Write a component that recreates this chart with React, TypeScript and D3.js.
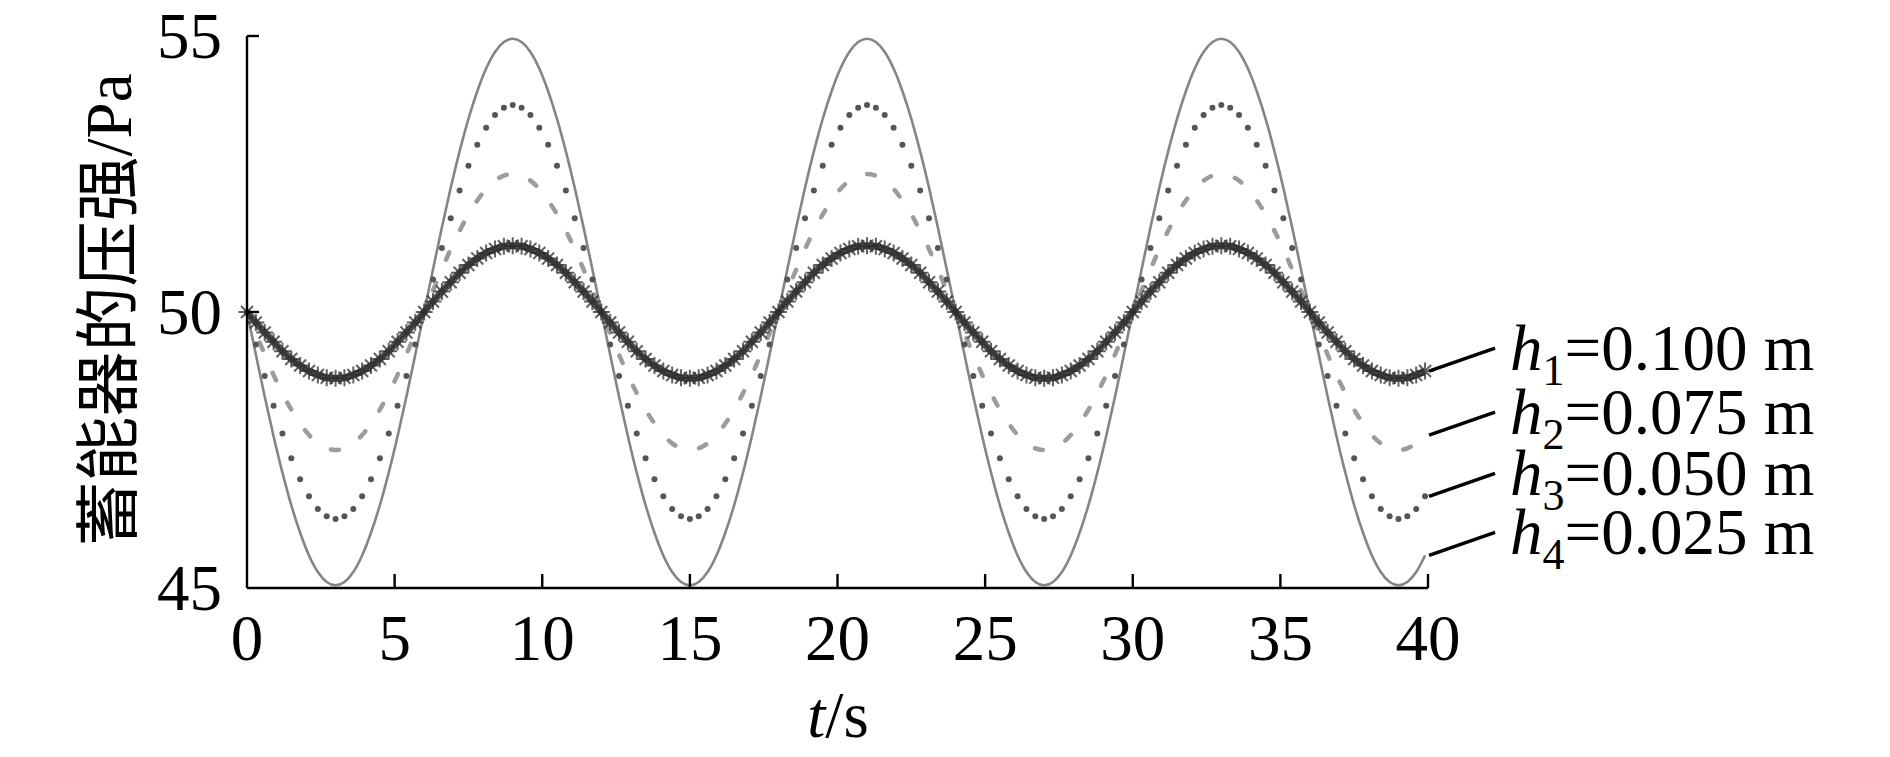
import React from "react";
import * as d3 from "d3";

const TIME_S = [
  0,0.3,0.6,0.9,1.2,1.5,1.8,2.1,2.4,2.7,
  3,3.3,3.6,3.9,4.2,4.5,4.8,5.1,5.4,5.7,
  6,6.3,6.6,6.9,7.2,7.5,7.8,8.1,8.4,8.7,
  9,9.3,9.6,9.9,10.2,10.5,10.8,11.1,11.4,11.7,
  12,12.3,12.6,12.9,13.2,13.5,13.8,14.1,14.4,14.7,
  15,15.3,15.6,15.9,16.2,16.5,16.8,17.1,17.4,17.7,
  18,18.3,18.6,18.9,19.2,19.5,19.8,20.1,20.4,20.7,
  21,21.3,21.6,21.9,22.2,22.5,22.8,23.1,23.4,23.7,
  24,24.3,24.6,24.9,25.2,25.5,25.8,26.1,26.4,26.7,
  27,27.3,27.6,27.9,28.2,28.5,28.8,29.1,29.4,29.7,
  30,30.3,30.6,30.9,31.2,31.5,31.8,32.1,32.4,32.7,
  33,33.3,33.6,33.9,34.2,34.5,34.8,35.1,35.4,35.7,
  36,36.3,36.6,36.9,37.2,37.5,37.8,38.1,38.4,38.7,
  39,39.3,39.6,39.9,
];

// h1 = 0.100 m (star markers)
const P_H1 = [
  50,49.81,49.63,49.46,49.29,49.15,49.03,48.93,48.86,48.81,
  48.8,48.81,48.86,48.93,49.03,49.15,49.29,49.46,49.63,49.81,
  50,50.19,50.37,50.54,50.71,50.85,50.97,51.07,51.14,51.19,
  51.2,51.19,51.14,51.07,50.97,50.85,50.71,50.54,50.37,50.19,
  50,49.81,49.63,49.46,49.29,49.15,49.03,48.93,48.86,48.81,
  48.8,48.81,48.86,48.93,49.03,49.15,49.29,49.46,49.63,49.81,
  50,50.19,50.37,50.54,50.71,50.85,50.97,51.07,51.14,51.19,
  51.2,51.19,51.14,51.07,50.97,50.85,50.71,50.54,50.37,50.19,
  50,49.81,49.63,49.46,49.29,49.15,49.03,48.93,48.86,48.81,
  48.8,48.81,48.86,48.93,49.03,49.15,49.29,49.46,49.63,49.81,
  50,50.19,50.37,50.54,50.71,50.85,50.97,51.07,51.14,51.19,
  51.2,51.19,51.14,51.07,50.97,50.85,50.71,50.54,50.37,50.19,
  50,49.81,49.63,49.46,49.29,49.15,49.03,48.93,48.86,48.81,
  48.8,48.81,48.86,48.93,
];

// h2 = 0.075 m (dashed)
const P_H2 = [
  50,49.61,49.23,48.86,48.53,48.23,47.98,47.77,47.62,47.53,
  47.5,47.53,47.62,47.77,47.98,48.23,48.53,48.86,49.23,49.61,
  50,50.39,50.77,51.14,51.47,51.77,52.02,52.23,52.38,52.47,
  52.5,52.47,52.38,52.23,52.02,51.77,51.47,51.14,50.77,50.39,
  50,49.61,49.23,48.86,48.53,48.23,47.98,47.77,47.62,47.53,
  47.5,47.53,47.62,47.77,47.98,48.23,48.53,48.86,49.23,49.61,
  50,50.39,50.77,51.14,51.47,51.77,52.02,52.23,52.38,52.47,
  52.5,52.47,52.38,52.23,52.02,51.77,51.47,51.14,50.77,50.39,
  50,49.61,49.23,48.86,48.53,48.23,47.98,47.77,47.62,47.53,
  47.5,47.53,47.62,47.77,47.98,48.23,48.53,48.86,49.23,49.61,
  50,50.39,50.77,51.14,51.47,51.77,52.02,52.23,52.38,52.47,
  52.5,52.47,52.38,52.23,52.02,51.77,51.47,51.14,50.77,50.39,
  50,49.61,49.23,48.86,48.53,48.23,47.98,47.77,47.62,47.53,
  47.5,47.53,47.62,47.77,
];

// h3 = 0.050 m (dotted markers)
const P_H3 = [
  50,49.41,48.84,48.3,47.8,47.35,46.97,46.66,46.43,46.3,
  46.25,46.3,46.43,46.66,46.97,47.35,47.8,48.3,48.84,49.41,
  50,50.59,51.16,51.7,52.2,52.65,53.03,53.34,53.57,53.7,
  53.75,53.7,53.57,53.34,53.03,52.65,52.2,51.7,51.16,50.59,
  50,49.41,48.84,48.3,47.8,47.35,46.97,46.66,46.43,46.3,
  46.25,46.3,46.43,46.66,46.97,47.35,47.8,48.3,48.84,49.41,
  50,50.59,51.16,51.7,52.2,52.65,53.03,53.34,53.57,53.7,
  53.75,53.7,53.57,53.34,53.03,52.65,52.2,51.7,51.16,50.59,
  50,49.41,48.84,48.3,47.8,47.35,46.97,46.66,46.43,46.3,
  46.25,46.3,46.43,46.66,46.97,47.35,47.8,48.3,48.84,49.41,
  50,50.59,51.16,51.7,52.2,52.65,53.03,53.34,53.57,53.7,
  53.75,53.7,53.57,53.34,53.03,52.65,52.2,51.7,51.16,50.59,
  50,49.41,48.84,48.3,47.8,47.35,46.97,46.66,46.43,46.3,
  46.25,46.3,46.43,46.66,
];

// h4 = 0.025 m (solid)
const P_H4 = [
  50,49.23,48.47,47.75,47.09,46.5,46,45.59,45.29,45.11,
  45.05,45.11,45.29,45.59,46,46.5,47.09,47.75,48.47,49.23,
  50,50.77,51.53,52.25,52.91,53.5,54,54.41,54.71,54.89,
  54.95,54.89,54.71,54.41,54,53.5,52.91,52.25,51.53,50.77,
  50,49.23,48.47,47.75,47.09,46.5,46,45.59,45.29,45.11,
  45.05,45.11,45.29,45.59,46,46.5,47.09,47.75,48.47,49.23,
  50,50.77,51.53,52.25,52.91,53.5,54,54.41,54.71,54.89,
  54.95,54.89,54.71,54.41,54,53.5,52.91,52.25,51.53,50.77,
  50,49.23,48.47,47.75,47.09,46.5,46,45.59,45.29,45.11,
  45.05,45.11,45.29,45.59,46,46.5,47.09,47.75,48.47,49.23,
  50,50.77,51.53,52.25,52.91,53.5,54,54.41,54.71,54.89,
  54.95,54.89,54.71,54.41,54,53.5,52.91,52.25,51.53,50.77,
  50,49.23,48.47,47.75,47.09,46.5,46,45.59,45.29,45.11,
  45.05,45.11,45.29,45.59,
];

const X_TICKS = [0, 5, 10, 15, 20, 25, 30, 35, 40];
const Y_TICKS = [45, 50, 55];
const LEGEND_SUB = ["1", "2", "3", "4"];
const LEGEND_VAL = ["=0.100 m", "=0.075 m", "=0.050 m", "=0.025 m"];
const Y_TITLE = "蓄能器的压强/Pa";

const SERIF = "'Liberation Serif', 'Times New Roman', 'Noto Sans CJK SC', serif";

export default function App() {
  const W = 1890, H = 757;
  const x = d3.scaleLinear().domain([0, 40]).range([247, 1428]);
  const y = d3.scaleLinear().domain([45, 55]).range([588, 36]);

  const mk = (vals: number[]) => TIME_S.map((t, i) => [t, vals[i]] as [number, number]);
  const line = d3
    .line<[number, number]>()
    .x((d) => x(d[0]))
    .y((d) => y(d[1]))
    .curve(d3.curveMonotoneX);

  const s1 = mk(P_H1), s2 = mk(P_H2), s3 = mk(P_H3), s4 = mk(P_H4);
  const legendSeries = [s1, s2, s3, s4];

  const starPath = "M-8.5,0L8.5,0M0,-8.5L0,8.5M-6,-6L6,6M-6,6L6,-6";

  return (
    <svg
      width={W}
      height={H}
      style={{ position: "absolute", left: 0, top: 0, background: "#fff" }}
      fontFamily={SERIF}
    >
      {/* h4 solid */}
      <path d={line(s4) || ""} fill="none" stroke="#858585" strokeWidth={2.6} />
      {/* h2 dashed */}
      <path
        d={line(s2) || ""}
        fill="none"
        stroke="#9c9c9c"
        strokeWidth={4.5}
        strokeDasharray="8 25"
        strokeLinecap="round"
      />
      {/* h3 dotted markers */}
      {s3.map((d, i) => (
        <circle key={"c" + i} cx={x(d[0])} cy={y(d[1])} r={3} fill="#555" />
      ))}
      {/* h1 stars */}
      <path d={line(s1) || ""} fill="none" stroke="#333" strokeWidth={7} strokeOpacity={0.85} />
      {s1.map((d, i) => (
        <path
          key={"s" + i}
          d={starPath}
          transform={`translate(${x(d[0])},${y(d[1])})`}
          stroke="#2e2e2e"
          strokeWidth={2}
          strokeOpacity={0.75}
          fill="none"
        />
      ))}

      {/* axes */}
      <g stroke="#000" strokeWidth={2.4} fill="none">
        <line x1={x(0)} y1={y(55)} x2={x(0)} y2={y(45)} />
        <line x1={x(0)} y1={y(45)} x2={x(40)} y2={y(45)} />
        {X_TICKS.filter((t) => t > 0).map((t) => (
          <line key={"xt" + t} x1={x(t)} x2={x(t)} y1={y(45)} y2={y(45) - 14} />
        ))}
        {Y_TICKS.filter((v) => v > 45).map((v) => (
          <line key={"yt" + v} x1={x(0)} x2={x(0) + 12} y1={y(v)} y2={y(v)} />
        ))}
      </g>

      {/* tick labels */}
      {X_TICKS.map((t) => (
        <text key={"xl" + t} x={x(t)} y={660} fontSize={65} textAnchor="middle" fill="#000">
          {t}
        </text>
      ))}
      {Y_TICKS.map((v) => (
        <text key={"yl" + v} x={222} y={y(v) + 22} fontSize={65} textAnchor="end" fill="#000">
          {v}
        </text>
      ))}

      {/* axis titles */}
      <text x={838} y={737} fontSize={65} textAnchor="middle" fill="#000">
        <tspan fontStyle="italic">t</tspan>/s
      </text>
      <text
        transform="translate(131,310) rotate(-90)"
        fontSize={65}
        textAnchor="middle"
        fill="#000"
      >
        {Y_TITLE}
      </text>

      {/* legend with leader lines */}
      {legendSeries.map((s, i) => {
        const last = s[s.length - 1];
        const x0 = x(last[0]) + 4;
        const y0 = y(last[1]);
        return (
          <g key={"lg" + i}>
            <line x1={x0} y1={y0} x2={x0 + 66} y2={y0 - 23} stroke="#000" strokeWidth={3.5} />
            <text x={1510} y={y0 - 1} fontSize={65} fill="#000">
              <tspan fontStyle="italic">h</tspan>
              <tspan fontSize={44} dy={15}>{LEGEND_SUB[i]}</tspan>
              <tspan dy={-15}>{LEGEND_VAL[i]}</tspan>
            </text>
          </g>
        );
      })}
    </svg>
  );
}
